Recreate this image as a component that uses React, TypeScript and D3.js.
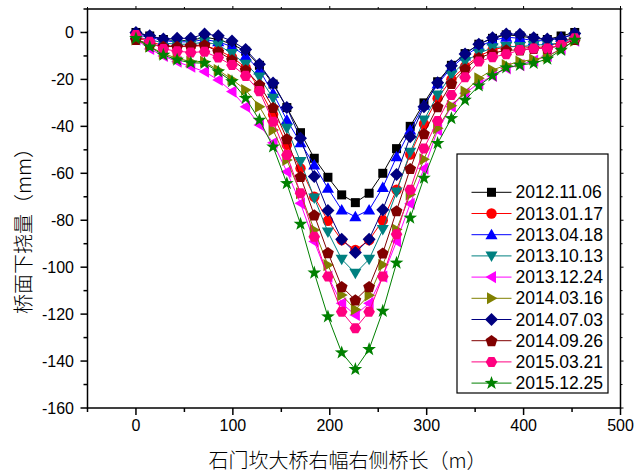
import React from "react";
import * as d3 from "d3";

// Survey stations along the bridge (m)
const stations = [0, 14.2, 28.3, 42.5, 56.6, 70.8, 84.9, 99.1, 113.2, 127.4, 141.5, 155.7, 169.8, 184.0, 198.1, 212.3, 226.4, 240.6, 254.7, 268.9, 283.0, 297.2, 311.3, 325.5, 339.6, 353.8, 367.9, 382.1, 396.2, 410.4, 424.5, 438.7, 452.8];

// Deflection (mm) per survey date
const dates = ["2012.11.06", "2013.01.17", "2013.04.18", "2013.10.13", "2013.12.24", "2014.03.16", "2014.07.03", "2014.09.26", "2015.03.21", "2015.12.25"];

const d20121106 = [0, -1.5, -3, -3.5, -3.5, -2, -3, -5, -8, -14, -22, -32, -42.7, -53.6, -61.7, -69.2, -72.5, -68.5, -60, -49.5, -40, -30, -21, -14, -9, -5, -2.5, -1, -1.5, -2.5, -3, -1.5, 0];
const d20130117 = [-2, -4, -5.5, -6, -6, -5.5, -7.5, -10.5, -15, -24, -35, -47.9, -57.9, -70, -80.2, -88.5, -92.7, -88.5, -80, -67, -52, -39, -28, -20, -14.5, -10, -7.5, -6, -6, -6.5, -6, -4, -2];
const d20130418 = [-1, -2, -3.5, -4, -4, -3, -4, -6, -10, -16, -25.9, -37.3, -47, -56.5, -66.4, -75.6, -78.5, -75.6, -66, -53, -41.6, -31, -22, -15, -10, -6, -3.5, -2, -2.5, -3.5, -3.5, -2, -1];
const d20131013 = [-2, -3, -4.5, -5, -5, -4, -5.3, -9, -13.5, -19, -28, -40.8, -55, -70.5, -85, -96.6, -102.6, -96.6, -84, -68, -51, -37.3, -26.6, -18.1, -12.4, -8.9, -6.5, -6, -6, -5.5, -5, -4.6, -2];
const d20131224 = [-3, -7, -10, -12.5, -14.6, -16.7, -20.2, -25.2, -31.6, -39.4, -47, -59.3, -72.8, -89.1, -104, -115.4, -120.4, -115.4, -104, -89, -73, -58, -41.6, -31.6, -25.9, -21.7, -18.5, -15.3, -13.9, -12, -10, -7, -3.5];
const d20140316 = [-3, -6, -9, -11, -12.4, -12.5, -16, -20, -24.5, -31.6, -41.6, -54.3, -68.5, -84.2, -99.1, -111.9, -118, -112, -99, -84, -69, -54, -40.8, -31.2, -25.2, -19.5, -16, -13.9, -12.4, -11.5, -10.3, -7, -3.5];
const d20140703 = [0, -1.4, -2.8, -2.5, -2.5, -0.6, -1.4, -3.6, -7.3, -13.5, -21.5, -32, -45.1, -61.4, -75.9, -88.1, -93.8, -88.1, -75.5, -60.5, -44.4, -31.6, -21.4, -14.2, -9.2, -5, -2.2, -0.6, -0.8, -2.2, -2.8, -2.8, -0.4];
const d20140926 = [-3, -5, -6, -6, -5.6, -5.3, -8.2, -11.7, -16, -22.2, -32, -45.3, -61.4, -77.8, -93.8, -108.3, -114, -108.3, -94, -76, -58, -43.1, -31.6, -21.7, -15.5, -10.7, -8.9, -7.5, -7.5, -6.8, -6.8, -5.5, -3];
const d20150321 = [-1.1, -4, -7, -8, -8.5, -8.2, -10.7, -13.9, -18.5, -25, -38, -52.2, -68.5, -87, -104, -119, -126, -119, -104, -86, -67, -49.4, -37.7, -26.6, -19.1, -12.4, -10.5, -9.3, -7.5, -6.8, -6.8, -5.3, -2.5];
const d20151225 = [-2.5, -6.1, -9.6, -11.7, -12.9, -13.1, -16.7, -20.9, -28, -37.3, -48.7, -64.3, -81.6, -102.4, -121.1, -136.4, -143.5, -135, -118.7, -98.2, -79, -62, -47.2, -36.6, -28.8, -22.7, -18.4, -15, -13.9, -13.1, -11.3, -7.5, -3.2];

const seriesValues = [d20121106, d20130117, d20130418, d20131013, d20131224, d20140316, d20140703, d20140926, d20150321, d20151225];
const colors = ["#000000", "#FF0000", "#0000FF", "#008080", "#FF00FF", "#808000", "#000080", "#800000", "#FF0080", "#008000"];
const shapes = ["square", "circle", "up", "down", "left", "right", "diamond", "pentagon", "hexagon", "star"];

const xTicks = [0, 100, 200, 300, 400, 500];
const xMinor = [-50, 50, 150, 250, 350, 450];
const yTicks = [0, -20, -40, -60, -80, -100, -120, -140, -160];
const yMinor = [10, -10, -30, -50, -70, -90, -110, -130, -150];

const W = 635;
const H = 473;
const L = 87.5;
const R = 620.5;
const T = 9;
const B = 408;

const x = d3.scaleLinear().domain([-50, 500]).range([L, R]);
const y = d3.scaleLinear().domain([-160, 10]).range([B, T]);

function poly(cx: number, cy: number, r: number, n: number, rot: number) {
  const pts: string[] = [];
  for (let i = 0; i < n; i++) {
    const a = rot + (i * 2 * Math.PI) / n;
    pts.push(`${cx + r * Math.cos(a)},${cy + r * Math.sin(a)}`);
  }
  return "M" + pts.join("L") + "Z";
}

function star(cx: number, cy: number, ro: number, ri: number) {
  const pts: string[] = [];
  for (let i = 0; i < 10; i++) {
    const r = i % 2 === 0 ? ro : ri;
    const a = -Math.PI / 2 + (i * Math.PI) / 5;
    pts.push(`${cx + r * Math.cos(a)},${cy + r * Math.sin(a)}`);
  }
  return "M" + pts.join("L") + "Z";
}

function Marker({ shape, cx, cy, color }: { shape: string; cx: number; cy: number; color: string }) {
  switch (shape) {
    case "square":
      return <rect x={cx - 4.5} y={cy - 4.5} width={9} height={9} fill={color} />;
    case "circle":
      return <circle cx={cx} cy={cy} r={5.2} fill={color} />;
    case "up":
      return <path d={poly(cx, cy + 1, 7, 3, -Math.PI / 2)} fill={color} />;
    case "down":
      return <path d={poly(cx, cy - 1, 7, 3, Math.PI / 2)} fill={color} />;
    case "left":
      return <path d={poly(cx + 1, cy, 7, 3, Math.PI)} fill={color} />;
    case "right":
      return <path d={poly(cx - 1, cy, 7, 3, 0)} fill={color} />;
    case "diamond":
      return <path d={poly(cx, cy, 6.5, 4, 0)} fill={color} />;
    case "pentagon":
      return <path d={poly(cx, cy + 0.5, 6.2, 5, -Math.PI / 2)} fill={color} />;
    case "hexagon":
      return <path d={poly(cx, cy, 5.8, 6, 0)} fill={color} />;
    default:
      return <path d={star(cx, cy, 7.2, 2.9)} fill={color} />;
  }
}

const numFont = "'Liberation Sans', Arial, sans-serif";
const cjkFont = "'Noto Sans CJK SC', sans-serif";

export default function App() {
  const line = d3
    .line<number>()
    .x((_, i) => x(stations[i]))
    .y((v) => y(v));

  const legX = 457;
  const legY = 154;
  const rowY0 = 192.3;
  const rowStep = 21.2;

  return (
    <svg
      width={W}
      height={H}
      viewBox={`0 0 ${W} ${H}`}
      style={{ position: "fixed", left: 0, top: 0, background: "#fff" }}
    >
      <rect x={0} y={0} width={W} height={H} fill="#fff" />

      {/* series */}
      {seriesValues.map((vals, si) => (
        <g key={dates[si]}>
          <path d={line(vals) || ""} fill="none" stroke={colors[si]} strokeWidth={1} />
          {vals.map((v, i) => (
            <Marker key={i} shape={shapes[si]} cx={x(stations[i])} cy={y(v)} color={colors[si]} />
          ))}
        </g>
      ))}

      {/* frame */}
      <rect x={L} y={T} width={R - L} height={B - T} fill="none" stroke="#000" strokeWidth={1.5} />

      {/* bottom axis */}
      {xTicks.map((t) => (
        <g key={"xt" + t}>
          <line x1={x(t)} x2={x(t)} y1={B} y2={B + 7} stroke="#000" strokeWidth={1.5} />
          <line x1={x(t)} x2={x(t)} y1={T} y2={T - 3} stroke="#000" strokeWidth={1} />
          <text x={x(t)} y={425} textAnchor="middle" dominantBaseline="central" fontFamily={numFont} fontSize={16}>
            {t}
          </text>
        </g>
      ))}
      {xMinor.map((t) => (
        <g key={"xm" + t}>
          <line x1={x(t)} x2={x(t)} y1={B} y2={B + 4} stroke="#000" strokeWidth={1.5} />
          <line x1={x(t)} x2={x(t)} y1={T} y2={T - 2} stroke="#000" strokeWidth={1} />
        </g>
      ))}

      {/* left axis */}
      {yTicks.map((t) => (
        <g key={"yt" + t}>
          <line x1={L} x2={L - 7} y1={y(t)} y2={y(t)} stroke="#000" strokeWidth={1.5} />
          <line x1={R} x2={R + 3} y1={y(t)} y2={y(t)} stroke="#000" strokeWidth={1} />
          <text x={74} y={y(t)} textAnchor="end" dominantBaseline="central" fontFamily={numFont} fontSize={16}>
            {t}
          </text>
        </g>
      ))}
      {yMinor.map((t) => (
        <g key={"ym" + t}>
          <line x1={L} x2={L - 4} y1={y(t)} y2={y(t)} stroke="#000" strokeWidth={1.5} />
          <line x1={R} x2={R + 2} y1={y(t)} y2={y(t)} stroke="#000" strokeWidth={1} />
        </g>
      ))}

      {/* axis titles */}
      <text
        x={347.5}
        y={459}
        textAnchor="middle"
        dominantBaseline="central"
        fontFamily={cjkFont}
        fontWeight={300}
        fontSize={20}
      >
        石门坎大桥右幅右侧桥长（m）
      </text>
      <text
        transform="translate(22,226) rotate(-90)"
        textAnchor="middle"
        dominantBaseline="central"
        fontFamily={cjkFont}
        fontWeight={300}
        fontSize={20}
      >
        桥面下挠量（mm）
      </text>

      {/* legend */}
      <rect x={legX} y={legY} width={151} height={239} fill="#fff" stroke="#000" strokeWidth={1.2} />
      {dates.map((d, i) => {
        const ry = rowY0 + i * rowStep;
        return (
          <g key={"lg" + d}>
            <line x1={471.5} x2={511.5} y1={ry} y2={ry} stroke={colors[i]} strokeWidth={1} />
            <Marker shape={shapes[i]} cx={491.5} cy={ry} color={colors[i]} />
            <text x={515.5} y={ry} dominantBaseline="central" fontFamily={numFont} fontSize={17.5}>
              {d}
            </text>
          </g>
        );
      })}
    </svg>
  );
}
